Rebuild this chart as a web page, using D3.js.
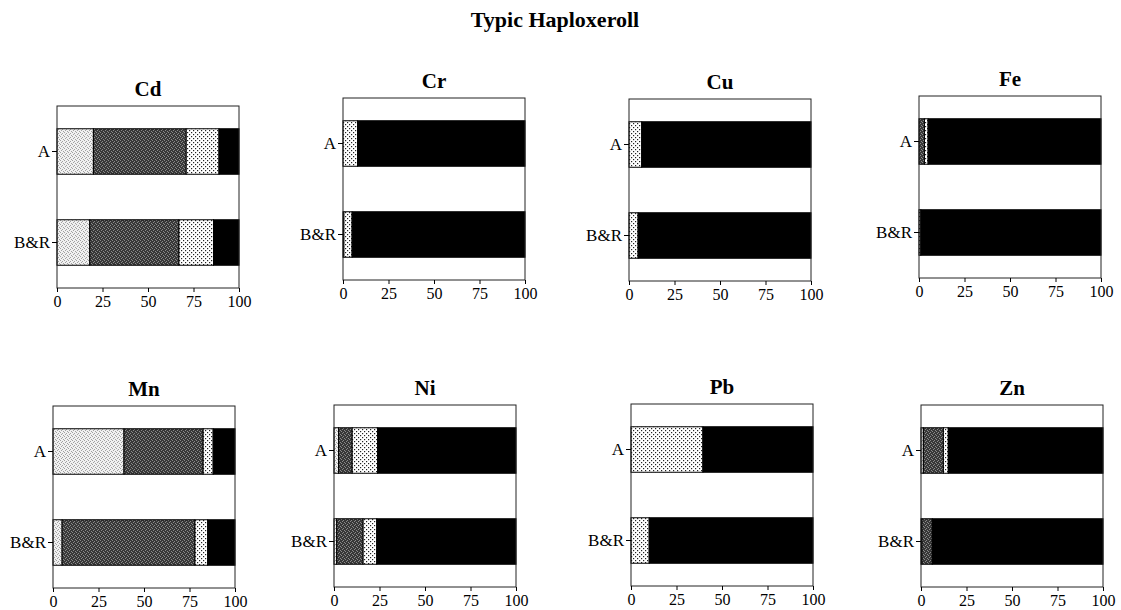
<!DOCTYPE html>
<html lang="en">
<head>
    <meta charset="utf-8">
    <title>Typic Haploxeroll</title>
    <style>
        body { margin: 0; background: #fff; }
        text { font-family: "Liberation Serif", "DejaVu Serif", serif; fill: #000; }
        .title { font-size: 22px; font-weight: bold; }
        .ptitle { font-size: 21px; font-weight: bold; }
        .xaxis text { font-size: 16px; }
        .yaxis text { font-size: 17px; }
        .axis line { stroke: #000; }
        .axis path { display: none; }
    </style>
</head>
<body>
<script src="https://cdn.jsdelivr.net/npm/d3@7"></script>
<script>

    // elements, in panel order
    var elements = ["Cd", "Cr", "Cu", "Fe", "Mn", "Ni", "Pb", "Zn"];
    var horizons = ["A", "B&R"];
    var fractions = ["f1", "f2", "f3", "f4"];
    var ticks = [0, 25, 50, 75, 100];

    // percent of total, order: Cd A, Cd B&R, Cr A, Cr B&R, ... Zn A, Zn B&R
    var f1 = [20, 18, 0, 0.5, 0, 0, 0, 0, 39, 5, 2.5, 1.5, 0, 0, 1.3, 0.5];
    var f2 = [51, 49, 0, 0, 0, 0, 3, 0, 43.5, 73, 7.5, 14.5, 0, 0, 11, 5.7];
    var f3 = [18, 19, 8, 4.5, 7, 5, 2, 1, 5.5, 7, 14, 7.5, 39.5, 10, 2.7, 0];
    var f4 = [11, 14, 92, 95, 93, 95, 95, 99, 12, 15, 76, 76.5, 60.5, 90, 85, 93.8];

    var width = 1121,
        height = 610;

    // frame positions of each panel (top-left corner)
    var pw = 182,
        ph = 182;
    var panelX = [57, 343, 629, 919, 53, 334, 631, 921];
    var panelY = [106, 98, 99, 96, 406, 405, 404, 405];

    var svg = d3.select("body").append("svg")
        .attr("width", width)
        .attr("height", height);

    var defs = svg.append("defs");

    // light stipple
    var pl = defs.append("pattern").attr("id", "pLight")
        .attr("width", 4).attr("height", 4).attr("patternUnits", "userSpaceOnUse");
    pl.append("rect").attr("width", 4).attr("height", 4).attr("fill", "#f0f0f0");
    [[0, 0], [2, 1], [1, 3], [3, 2]].forEach(function (p) {
        pl.append("rect").attr("x", p[0]).attr("y", p[1]).attr("width", 1).attr("height", 1).attr("fill", "#a0a0a0");
    });

    // dark stipple
    var pd = defs.append("pattern").attr("id", "pDark")
        .attr("width", 4).attr("height", 4).attr("patternUnits", "userSpaceOnUse");
    pd.append("rect").attr("width", 4).attr("height", 4).attr("fill", "#383838");
    [[0, 0], [2, 1], [1, 3], [3, 2]].forEach(function (p) {
        pd.append("rect").attr("x", p[0]).attr("y", p[1]).attr("width", 1).attr("height", 1).attr("fill", "#8a8a8a");
    });

    // dotted crosshatch
    var pc = defs.append("pattern").attr("id", "pDot")
        .attr("width", 4).attr("height", 4).attr("patternUnits", "userSpaceOnUse");
    pc.append("rect").attr("width", 4).attr("height", 4).attr("fill", "#fff");
    [[0, 0], [2, 2]].forEach(function (p) {
        pc.append("rect").attr("x", p[0]).attr("y", p[1]).attr("width", 1.2).attr("height", 1.2).attr("fill", "#222");
    });

    var fills = {f1: "url(#pLight)", f2: "url(#pDark)", f3: "url(#pDot)", f4: "#000"};

    svg.append("text")
        .attr("class", "title")
        .attr("x", 555)
        .attr("y", 27)
        .attr("text-anchor", "middle")
        .text("Typic Haploxeroll");

    var x = d3.scaleLinear().domain([0, 100]).range([0, pw]);
    var y = d3.scaleBand().domain(horizons).range([0, ph])
        .paddingInner(0.5).paddingOuter(0.25);

    var stack = d3.stack().keys(fractions);

    elements.forEach(function (el, i) {
        var rows = horizons.map(function (h, j) {
            var k = i * 2 + j;
            return {horizon: h, f1: f1[k], f2: f2[k], f3: f3[k], f4: f4[k]};
        });
        var series = stack(rows);

        var g = svg.append("g")
            .attr("transform", "translate(" + panelX[i] + "," + panelY[i] + ")");

        g.append("text")
            .attr("class", "ptitle")
            .attr("x", pw / 2)
            .attr("y", -10)
            .attr("text-anchor", "middle")
            .text(el);

        series.forEach(function (s) {
            g.selectAll(".seg-" + s.key)
                .data(s.filter(function (d) { return d[1] - d[0] > 0; }))
                .enter()
                .append("rect")
                .attr("class", "seg-" + s.key)
                .attr("x", function (d) { return x(d[0]); })
                .attr("width", function (d) { return x(d[1]) - x(d[0]); })
                .attr("y", function (d) { return y(d.data.horizon); })
                .attr("height", y.bandwidth())
                .attr("fill", fills[s.key])
                .attr("stroke", "#000")
                .attr("stroke-width", 1);
        });

        g.append("rect")
            .attr("width", pw)
            .attr("height", ph)
            .attr("fill", "none")
            .attr("stroke", "#222")
            .attr("stroke-width", 1);

        g.append("g")
            .attr("class", "axis xaxis")
            .attr("transform", "translate(0," + ph + ")")
            .call(d3.axisBottom(x).tickValues(ticks).tickSize(4).tickPadding(4));

        g.append("g")
            .attr("class", "axis yaxis")
            .call(d3.axisLeft(y).tickSize(5).tickPadding(2));
    });

</script>
</body>
</html>
